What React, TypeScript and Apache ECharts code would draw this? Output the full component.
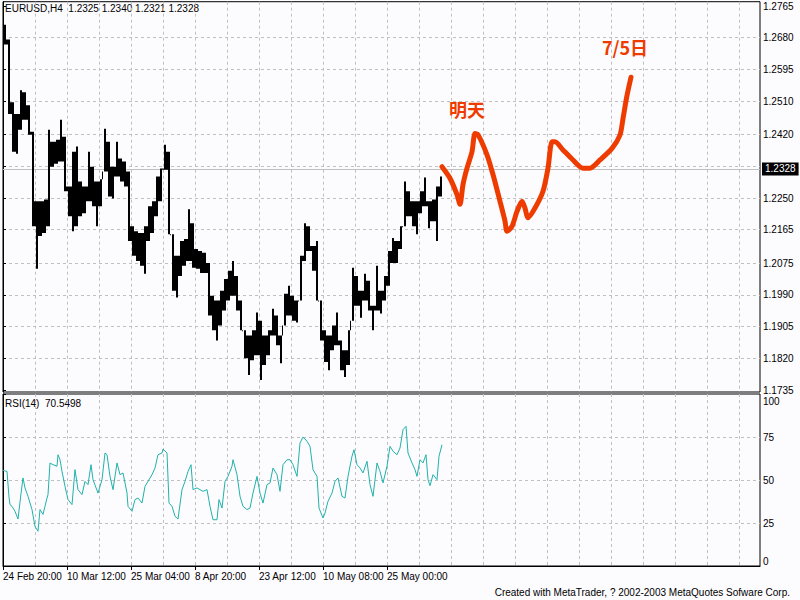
import React, { useEffect, useRef } from 'react';
import * as echarts from 'echarts';

// ---- data ----
const barStep = 4; // each sample covers 4 H4 bars
const barHighs = [
  1.2715, 1.2675, 1.2507, 1.2475, 1.2539, 1.2534, 1.2499, 1.2428, 1.2241, 1.2241,
  1.2246, 1.2433, 1.2401, 1.2406, 1.2460, 1.2414, 1.2281, 1.2374, 1.2388, 1.2294,
  1.2281, 1.2374, 1.2334, 1.2294, 1.2300, 1.2436, 1.2401, 1.2334, 1.2401, 1.2356,
  1.2348, 1.2321, 1.2174, 1.2161, 1.2156, 1.2174, 1.2228, 1.2241, 1.2308, 1.2329,
  1.2393, 1.2374, 1.2153, 1.2095, 1.2135, 1.2140, 1.2220, 1.2182, 1.2113, 1.2108,
  1.2103, 1.2076, 1.1988, 1.1975, 1.2001, 1.2033, 1.2055, 1.2081, 1.2041, 1.1975,
  1.1895, 1.1881, 1.1895, 1.1943, 1.1921, 1.1881, 1.1895, 1.1953, 1.1935, 1.1881,
  1.1993, 1.2015, 1.1988, 1.1975, 1.2095, 1.2182, 1.2174, 1.2121, 1.2135, 1.1975,
  1.1895, 1.1881, 1.1908, 1.1943, 1.1868, 1.1842, 1.1895, 1.2063, 1.2041, 1.2001,
  1.2047, 1.2028, 1.1961, 1.2068, 1.2001, 1.2041, 1.2108, 1.2143, 1.2135, 1.2174,
  1.2294, 1.2268, 1.2241, 1.2241, 1.2268, 1.2305, 1.2241, 1.2246, 1.2281, 1.2308,
];
const barLows = [
  1.2662, 1.2475, 1.2374, 1.2369, 1.2433, 1.2460, 1.2420, 1.2174, 1.2060, 1.2148,
  1.2156, 1.2174, 1.2334, 1.2342, 1.2348, 1.2268, 1.2201, 1.2161, 1.2174, 1.2201,
  1.2209, 1.2241, 1.2228, 1.2174, 1.2228, 1.2321, 1.2254, 1.2249, 1.2308, 1.2294,
  1.2281, 1.2135, 1.2095, 1.2081, 1.2068, 1.2047, 1.2135, 1.2156, 1.2201, 1.2241,
  1.2326, 1.2153, 1.2001, 1.1983, 1.2041, 1.2068, 1.2081, 1.2063, 1.2060, 1.2049,
  1.2049, 1.1935, 1.1895, 1.1868, 1.1908, 1.1948, 1.1975, 1.1988, 1.1948, 1.1895,
  1.1820, 1.1775, 1.1815, 1.1828, 1.1762, 1.1802, 1.1828, 1.1881, 1.1855, 1.1807,
  1.1908, 1.1935, 1.1921, 1.1916, 1.1975, 1.2081, 1.2108, 1.2055, 1.1975, 1.1868,
  1.1810, 1.1788, 1.1842, 1.1855, 1.1788, 1.1770, 1.1802, 1.1921, 1.1961, 1.1929,
  1.1975, 1.1948, 1.1895, 1.1948, 1.1940, 1.1975, 1.2015, 1.2076, 1.2076, 1.2113,
  1.2174, 1.2201, 1.2174, 1.2153, 1.2209, 1.2228, 1.2169, 1.2188, 1.2135, 1.2254,
];

// [bar index, RSI(14)]
const rsiPoints = [
  [0, 55.6], [4, 55], [6, 40], [7, 35.7], [9, 34.7], [12, 31.8], [15, 27.3], [18, 42], [20, 51.2],
  [22, 45.4], [25, 40.5], [29, 32.8], [32, 23], [35, 20.2], [37, 32.8], [40, 30], [44, 39.5],
  [45, 41.5], [47, 59.9], [50, 58.9], [54, 58], [55, 64.7], [57, 61.8], [59, 55], [62, 46.3],
  [65, 38.6], [69, 35.7], [72, 56], [75, 44.4], [79, 41.5], [82, 49.2], [85, 47.3], [88, 58.9],
  [90, 50.2], [95, 42.4], [99, 50.2], [102, 65.7], [104, 64.7], [107, 52.1], [110, 44.4],
  [114, 59.9], [117, 53.1], [120, 54.1], [124, 42.4], [125, 34.7], [129, 31.8], [132, 38.6],
  [135, 39.5], [139, 36.6], [142, 46.3], [145, 49.2], [149, 53.1], [152, 57], [155, 64.7],
  [159, 65.7], [160, 68], [164, 65.7], [166, 36.6], [169, 34.7], [172, 28.9], [175, 27.3],
  [179, 44.4], [182, 49.2], [185, 55], [188, 58.9], [190, 44.4], [194, 45.4], [197, 44.4],
  [200, 43.4], [204, 44.4], [207, 34.7], [210, 26.9], [214, 26.9], [216, 38.6], [219, 33.7],
  [222, 49.2], [225, 52.1], [229, 58], [230, 61.8], [234, 53.1], [237, 40.5], [240, 34.7],
  [244, 32.8], [247, 33.7], [250, 42.4], [254, 52.1], [257, 42.4], [260, 36.6], [264, 47.3],
  [267, 48.3], [270, 57], [274, 53.1], [277, 43.4], [280, 58.9], [284, 61.8], [287, 61.8],
  [290, 58.9], [294, 52.1], [297, 71.5], [300, 75], [304, 72.5], [307, 69.6], [310, 56],
  [314, 52.1], [316, 33.7], [320, 27.9], [322, 30.8], [325, 37.6], [329, 42.4], [332, 49.2],
  [335, 51.2], [339, 40.5], [342, 39.5], [345, 52.1], [349, 63.8], [351, 67.6], [354, 58.9],
  [357, 57], [360, 54.1], [364, 60.9], [367, 47.3], [370, 40.5], [374, 59.9], [377, 55],
  [380, 48.3], [384, 58], [387, 69.6], [390, 66.7], [394, 64.7], [397, 68.6], [400, 79.3],
  [403, 81.2], [405, 65.7], [409, 59.9], [412, 56], [414, 52.1], [417, 61.8], [420, 59.9],
  [423, 64.7], [425, 50.2], [427, 46.7], [430, 53.1], [434, 50.2], [436, 63.8], [439, 70.5],
];

// hand-drawn forecast: [bar index, price]
const forecastPoints = [
  [439, 1.2334], [447, 1.2303], [454, 1.2259], [457, 1.2233], [460, 1.2286], [464, 1.2330],
  [469, 1.2374], [472, 1.2423], [475, 1.2420], [484, 1.2366], [490, 1.2313], [497, 1.2241],
  [502, 1.2188], [504, 1.2161], [509, 1.2174], [514, 1.2214], [519, 1.2241], [522, 1.2223],
  [525, 1.2197], [532, 1.2223], [540, 1.2268], [545, 1.2330], [549, 1.2401], [552, 1.2401],
  [560, 1.2379], [570, 1.2352], [580, 1.2330], [587, 1.2330], [597, 1.2352], [609, 1.2383],
  [617, 1.2419], [620, 1.2463], [624, 1.2525], [628, 1.2574],
];
const annotations = [
  { name: '明天', coord: [464, 1.2489] },
  { name: '7/5日', coord: [622, 1.2654] },
];

const priceTicks = ['1.1735', '1.1820', '1.1905', '1.1990', '1.2075', '1.2165', '1.2250', '1.2335', '1.2420', '1.2510', '1.2595', '1.2680', '1.2765'];
const hiddenPriceTick = '1.2335';
const rsiTicks = [0, 25, 50, 75, 100];
const dateLabels = ['24 Feb 20:00', '10 Mar 12:00', '25 Mar 04:00', '8 Apr 20:00', '23 Apr 12:00', '10 May 08:00', '25 May 00:00'];
const dateLabelStep = 64;
const currentPrice = 1.2328;
const headerText = 'EURUSD,H4  1.2325 1.2340 1.2321 1.2328';
const rsiText = 'RSI(14)  70.5498';
const footerText = 'Created with MetaTrader, ? 2002-2003 MetaQuotes Sofware Corp.';

const FONT = '"Liberation Sans", Arial, sans-serif';
const CJK = '"Noto Sans CJK SC", sans-serif';
const RED = '#ee3c00';

export default function App() {
  const ref = useRef<HTMLDivElement>(null);
  useEffect(() => {
    if (!ref.current) return;
    const chart = echarts.init(ref.current, undefined, { renderer: 'svg' });
    const gridLine = { show: true, showMinLine: false, showMaxLine: false, lineStyle: { color: '#c0c0c0', type: [3, 3], width: 1 } };
    const dateTickValues = dateLabels.map((_, i) => i * dateLabelStep);
    const priceTickValues = priceTicks.map(Number);
    const labeledPrices = priceTicks.filter((t) => t !== hiddenPriceTick).map(Number);
    const axisText = { color: '#000', fontSize: 10, fontFamily: FONT, lineHeight: 10 };

    const option: any = {
      animation: false,
      backgroundColor: '#fcfbfe',
      grid: [
        { left: 3, top: -1, width: 757, height: 393, show: true, borderColor: '#000', borderWidth: 1, backgroundColor: 'transparent' },
        { left: 3, top: 394, width: 757, height: 172, show: true, borderColor: '#000', borderWidth: 1, backgroundColor: 'transparent' },
      ],
      xAxis: [
        { type: 'value', gridIndex: 0, min: 0, max: 757, interval: 32, axisLine: { show: false }, axisTick: { show: false }, axisLabel: { show: false }, splitLine: gridLine },
        { type: 'value', gridIndex: 1, min: 0, max: 757, interval: 32, axisLine: { show: false }, axisTick: { show: false }, axisLabel: { show: false }, splitLine: gridLine },
        {
          type: 'value', gridIndex: 1, min: 0, max: 757, position: 'bottom',
          axisLine: { show: true, lineStyle: { color: '#000' } },
          axisTick: { show: true, length: 4, customValues: dateTickValues, lineStyle: { color: '#000' } },
          axisLabel: { ...axisText, customValues: dateTickValues, align: 'left', margin: 5, formatter: (v: number) => dateLabels[Math.round(v / dateLabelStep)] || '' },
          splitLine: { show: false },
        },
      ],
      yAxis: [
        {
          type: 'value', gridIndex: 0, position: 'right', min: 1.17297, max: 1.27765,
          axisLine: { show: true, lineStyle: { color: '#000' } },
          axisTick: { show: true, length: 3, customValues: priceTickValues, lineStyle: { color: '#000' } },
          axisLabel: { ...axisText, customValues: labeledPrices, margin: 3, padding: [0, 0, 2, 0], formatter: (v: number) => v.toFixed(4) },
          splitLine: gridLine,
        },
        {
          type: 'value', gridIndex: 1, position: 'right', min: 0, max: 100, interval: 25,
          axisLine: { show: true, lineStyle: { color: '#000' } },
          axisTick: { show: true, length: 3, customValues: rsiTicks, lineStyle: { color: '#000' } },
          axisLabel: { ...axisText, customValues: rsiTicks, margin: 3, padding: [2, 0, 0, 0], verticalAlignMaxLabel: 'top', verticalAlignMinLabel: 'bottom' },
          splitLine: { ...gridLine },
        },
      ],
      graphic: [
        { type: 'text', left: 5, top: 3, style: { text: headerText, fill: '#000', font: `10px ${FONT}` } },
        { type: 'text', left: 5, top: 398, style: { text: rsiText, fill: '#000', font: `10px ${FONT}` } },
        { type: 'text', right: 10, top: 587, style: { text: footerText, fill: '#000', font: `10px ${FONT}` } },
      ],
      series: [
        {
          type: 'custom', xAxisIndex: 0, yAxisIndex: 0,
          data: barHighs.map((h, i) => [i * barStep, barLows[i], h]),
          encode: { x: 0, y: [1, 2] },
          renderItem: (params: any, api: any) => {
            const i = params.dataIndex;
            const x = api.value(0);
            const lo = api.value(1);
            const hi = api.value(2);
            const children: any[] = [];
            const a = api.coord([x + 1, hi]);
            const b = api.coord([x + 3, lo]);
            children.push({ type: 'rect', shape: { x: a[0], y: a[1], width: b[0] - a[0], height: Math.max(1, b[1] - a[1]) }, style: { fill: '#000' } });
            if (i + 1 < barHighs.length) {
              const oh = Math.min(hi, barHighs[i + 1]);
              const ol = Math.max(lo, barLows[i + 1]);
              if (oh > ol) {
                const c = api.coord([x + 3, oh]);
                const d = api.coord([x + 5, ol]);
                children.push({ type: 'rect', shape: { x: c[0], y: c[1], width: d[0] - c[0], height: Math.max(1, d[1] - c[1]) }, style: { fill: '#000' } });
              } else {
                const top = Math.max(lo, barLows[i + 1]);
                const bot = Math.min(hi, barHighs[i + 1]);
                const c = api.coord([x + 3, top]);
                const d = api.coord([x + 4, bot]);
                children.push({ type: 'rect', shape: { x: c[0], y: c[1], width: d[0] - c[0], height: Math.max(1, d[1] - c[1]) }, style: { fill: '#000' } });
              }
            }
            return { type: 'group', children };
          },
          z: 3,
        },
        {
          type: 'line', xAxisIndex: 0, yAxisIndex: 0, data: forecastPoints, symbol: 'none', smooth: 0.25,
          lineStyle: { color: RED, width: 5, cap: 'round', join: 'round' }, z: 4,
          markLine: {
            silent: true, symbol: ['none', 'none'], precision: 4,
            lineStyle: { color: '#c0c0c0', type: 'solid', width: 1 },
            label: { show: true, position: 'end', distance: 2, formatter: currentPrice.toFixed(4), backgroundColor: '#000', color: '#fff', padding: [2, 3, 1, 3], fontSize: 10, fontFamily: FONT },
            data: [{ yAxis: currentPrice }],
            z: 1,
          },
          markPoint: {
            silent: true, symbol: 'circle', symbolSize: 0,
            label: { show: true, position: 'inside', formatter: (p: any) => p.name, color: RED, fontSize: 18, fontWeight: 'bold', fontFamily: CJK },
            data: annotations,
          },
        },
        {
          type: 'line', xAxisIndex: 1, yAxisIndex: 1, data: rsiPoints, symbol: 'none',
          lineStyle: { color: '#20b2aa', width: 1 }, z: 3,
        },
      ],
    };
    chart.setOption(option);
    return () => chart.dispose();
  }, []);
  return <div ref={ref} style={{ position: 'absolute', left: 0, top: 0, width: 800, height: 600 }} />;
}
